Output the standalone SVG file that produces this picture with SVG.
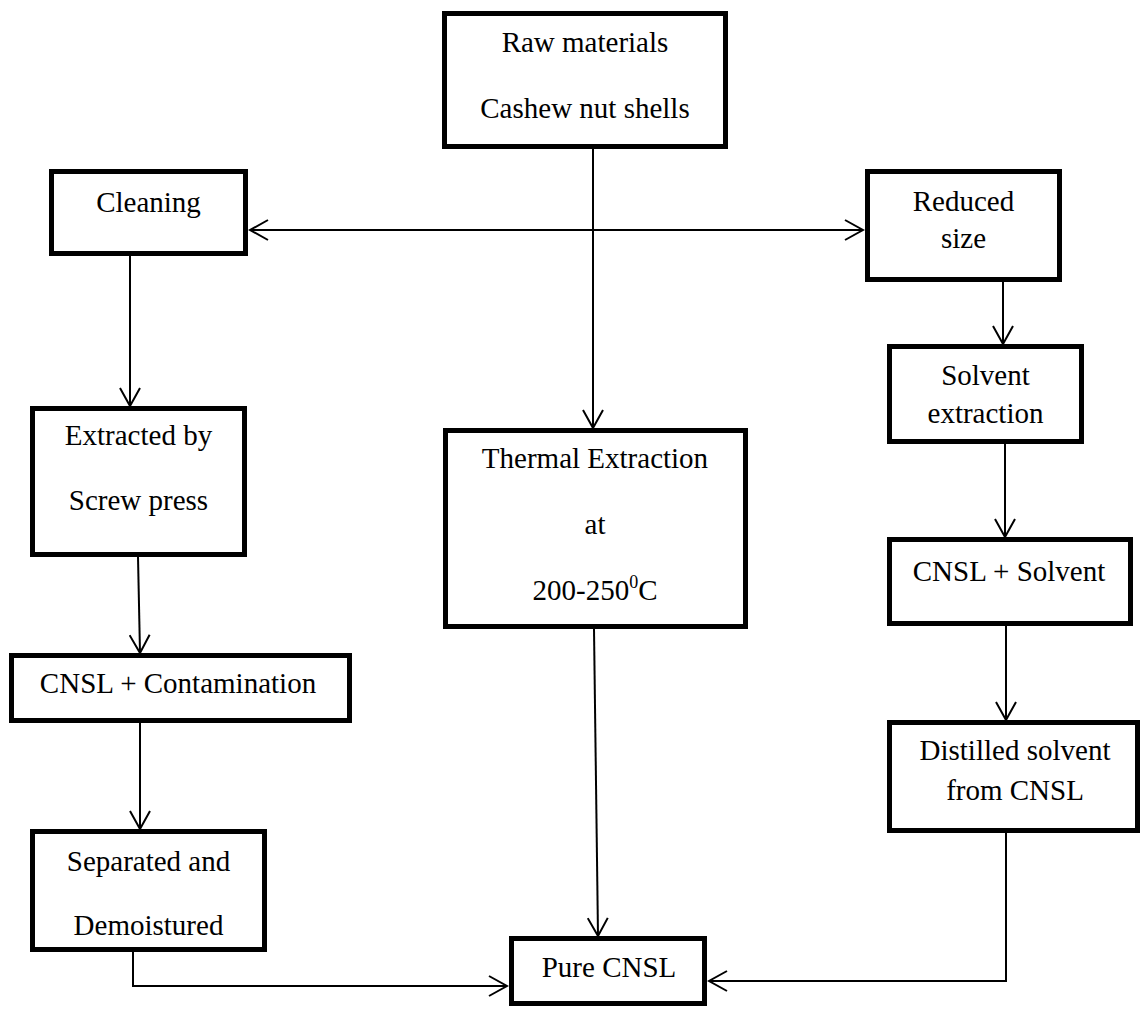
<svg xmlns="http://www.w3.org/2000/svg" width="1142" height="1009" viewBox="0 0 1142 1009">
<style>
.box{fill:#fff;stroke:#000;stroke-width:5}
.t{font-family:'Liberation Serif','Times New Roman',Times,'DejaVu Serif',serif;font-size:29px;fill:#000;text-anchor:middle}
.c{fill:none;stroke:#000;stroke-width:2}
</style>
<defs>
<marker id="ah" markerUnits="userSpaceOnUse" viewBox="0 0 22 22" markerWidth="22" markerHeight="22" refX="20" refY="11" orient="auto-start-reverse">
<path d="M2,1 L20,11 L2,21" fill="none" stroke="#000" stroke-width="2"/>
</marker>
</defs>
<rect width="1142" height="1009" fill="#fff"/>
<g id="connectors">
<path class="c" d="M593,149 L593,428" marker-end="url(#ah)"/>
<path class="c" d="M250,230 L863,230" marker-start="url(#ah)" marker-end="url(#ah)"/>
<path class="c" d="M130,256 L130,406" marker-end="url(#ah)"/>
<path class="c" d="M138,557 L140,653" marker-end="url(#ah)"/>
<path class="c" d="M140,723 L140,829" marker-end="url(#ah)"/>
<path class="c" d="M133,952 L133,986 L507,986" marker-end="url(#ah)"/>
<path class="c" d="M594,629 L598,936" marker-end="url(#ah)"/>
<path class="c" d="M1003,282 L1003,344" marker-end="url(#ah)"/>
<path class="c" d="M1005,444 L1005,537" marker-end="url(#ah)"/>
<path class="c" d="M1006,626 L1006,720" marker-end="url(#ah)"/>
<path class="c" d="M1006,833 L1006,981 L709,981" marker-end="url(#ah)"/>
</g>
<g id="raw">
<rect class="box" x="444.5" y="13.5" width="281" height="133"/>
<text class="t" x="585" y="52">Raw materials</text>
<text class="t" x="585" y="118">Cashew nut shells</text>
</g>
<g id="cleaning">
<rect class="box" x="51.5" y="171.5" width="194" height="82"/>
<text class="t" x="148.5" y="212">Cleaning</text>
</g>
<g id="reduced">
<rect class="box" x="867.5" y="171.5" width="192" height="108"/>
<text class="t" x="963.5" y="211">Reduced</text>
<text class="t" x="963.5" y="248">size</text>
</g>
<g id="extracted">
<rect class="box" x="32.5" y="408.5" width="212" height="146"/>
<text class="t" x="138.5" y="445">Extracted by</text>
<text class="t" x="138.5" y="510">Screw press</text>
</g>
<g id="thermal">
<rect class="box" x="445.5" y="430.5" width="300" height="196"/>
<text class="t" x="595" y="468">Thermal Extraction</text>
<text class="t" x="595" y="534">at</text>
<text class="t" x="595" y="600">200-250<tspan font-size="18" dy="-12">0</tspan><tspan dy="12">C</tspan></text>
</g>
<g id="solvent">
<rect class="box" x="889.5" y="346.5" width="192" height="95"/>
<text class="t" x="985.5" y="385">Solvent</text>
<text class="t" x="985.5" y="423">extraction</text>
</g>
<g id="cnsl-contamination">
<rect class="box" x="11.5" y="655.5" width="338" height="65"/>
<text class="t" x="178" y="693">CNSL + Contamination</text>
</g>
<g id="cnsl-solvent">
<rect class="box" x="889.5" y="539.5" width="241" height="84"/>
<text class="t" x="1009" y="581">CNSL + Solvent</text>
</g>
<g id="separated">
<rect class="box" x="32.5" y="831.5" width="232" height="118"/>
<text class="t" x="148.5" y="871">Separated and</text>
<text class="t" x="148.5" y="935">Demoistured</text>
</g>
<g id="distilled">
<rect class="box" x="889.5" y="722.5" width="248" height="108"/>
<text class="t" x="1015" y="760">Distilled solvent</text>
<text class="t" x="1015" y="800">from CNSL</text>
</g>
<g id="pure">
<rect class="box" x="511.5" y="938.5" width="193" height="65"/>
<text class="t" x="609" y="977">Pure CNSL</text>
</g>
</svg>
